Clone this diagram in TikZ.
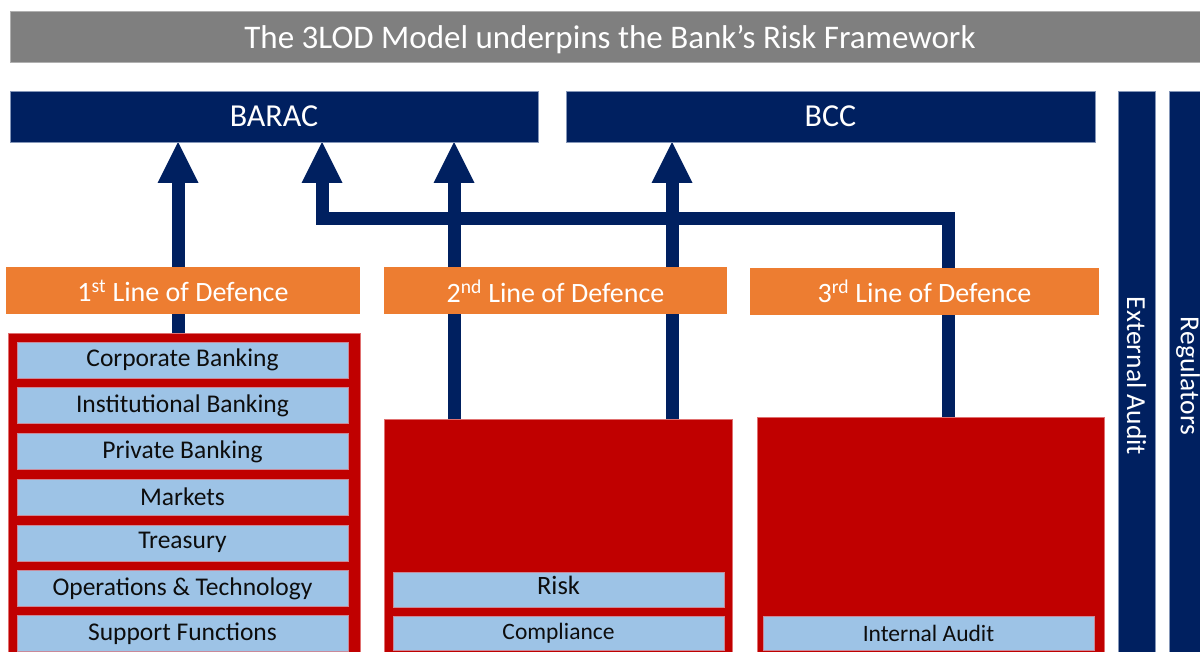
\documentclass[tikz,border=0pt]{standalone}
\usepackage{fontspec}
\setmainfont{Carlito}
\usetikzlibrary{arrows.meta}
\pgfdeclarelayer{back}
\pgfsetlayers{back,main}

\definecolor{navy}{HTML}{002060}
\definecolor{navyedge}{HTML}{8496B8}
\definecolor{titlegray}{HTML}{7F7F7F}
\definecolor{titleedge}{HTML}{B0B0B0}
\definecolor{lodorange}{HTML}{ED7D31}
\definecolor{unitred}{HTML}{C00000}
\definecolor{rededge}{HTML}{E07070}
\definecolor{funcblue}{HTML}{9DC3E6}
\definecolor{funcedge}{HTML}{C98A9A}
\definecolor{ink}{HTML}{0D0D0D}

\tikzset{
  box/.style={rectangle, inner sep=0pt, outer sep=0pt, anchor=center},
  banner/.style={box, fill=titlegray, draw=titleedge, line width=0.6pt, text=white,
    font=\fontsize{33}{40}\selectfont},
  board/.style={box, fill=navy, draw=navyedge, line width=0.6pt, text=white,
    minimum height=51pt, font=\fontsize{32}{38}\selectfont},
  sidebar/.style={box, fill=navy, draw=navyedge, line width=0.6pt, text=white,
    rotate=-90, minimum width=570pt, minimum height=37pt,
    font=\fontsize{27.5}{33}\selectfont},
  lod/.style={box, fill=lodorange, text=white, minimum height=47pt,
    font=\fontsize{28}{34}\selectfont},
  unit/.style={box, fill=unitred, draw=rededge, line width=0.6pt},
  func/.style={box, fill=funcblue, draw=funcedge, line width=0.5pt, text=ink,
    minimum width=331pt, minimum height=36pt, font=\fontsize{25.5}{30}\selectfont},
  report/.style={line width=13pt, draw=navy, line join=miter,
    -{Triangle[width=41pt, length=41pt, line width=0pt]}},
}

\begin{document}
\begin{tikzpicture}[x=1pt, y=-1pt]
  \useasboundingbox (0,0) rectangle (1200,652);
  \clip (0,0) rectangle (1200,652);

  % heading banner
  \node[banner, minimum width=1200pt, minimum height=51pt, text height=32pt, text depth=7pt]
    (title) at (610,36.5) {The 3LOD Model underpins the Bank’s Risk Framework};

  % board committees
  \node[board, minimum width=528pt] (barac) at (274,116.5) {BARAC};
  \node[board, minimum width=529pt] (bcc) at (830.5,116.5) {BCC};

  % external oversight bars
  \node[sidebar] (extaudit) at (1136.5,376) {External Audit};
  \node[sidebar] (regulators) at (1188,376) {Regulators};

  % the three lines of defence
  \node[lod, minimum width=354pt] (lod1) at (183,290.5) {1\textsuperscript{st} Line of Defence};
  \node[lod, minimum width=343pt] (lod2) at (555.5,291) {2\textsuperscript{nd} Line of Defence};
  \node[lod, minimum width=349pt] (lod3) at (924.5,291.5) {3\textsuperscript{rd} Line of Defence};

  % business units behind each line
  \node[unit, minimum width=352pt, minimum height=327pt] (red1) at (184,496.5) {};
  \node[unit, minimum width=348pt, minimum height=241pt] (red2) at (558,539.5) {};
  \node[unit, minimum width=347pt, minimum height=243pt] (red3) at (930.5,538.5) {};

  % first line functions
  \node[func] (corp) at (182.5,360) {Corporate Banking};
  \node[func] (inst) at (182.5,405.7) {Institutional Banking};
  \node[func] (priv) at (182.5,451.4) {Private Banking};
  \node[func] (mkts) at (182.5,497.1) {Markets};
  \node[func] (trsy) at (182.5,542.8) {Treasury};
  \node[func] (opst) at (182.5,588.5) {Operations \& Technology};
  \node[func] (supp) at (182.5,633.5) {Support Functions};

  % second line functions
  \node[func, minimum height=35pt, text depth=8pt, font=\fontsize{26.5}{31}\selectfont] (risk) at (558.5,589.5) {Risk};
  \node[func, minimum height=34pt, font=\fontsize{23.5}{28}\selectfont] (comp) at (558.5,633) {Compliance};

  % third line function
  \node[func, minimum height=34pt, font=\fontsize{23.5}{28}\selectfont] (iaud) at (928.5,633) {Internal Audit};

  % reporting lines, kept behind the boxes
  \coordinate (xa) at (178,0);
  \coordinate (xb) at (322,0);
  \coordinate (xc) at (454,0);
  \coordinate (xd) at (672,0);
  \coordinate (xe) at (948,0);
  \coordinate (hbar) at (0,219);
  \begin{pgfonlayer}{back}
    \draw[report] (xa |- red1.north) -- (xa |- barac.south);
    \draw[report] (xc |- red2.north) -- (xc |- barac.south);
    \draw[report] (xd |- red2.north) -- (xd |- bcc.south);
    \draw[report] (xe |- red3.north) -- (xe |- hbar) -- (xb |- hbar) -- (xb |- barac.south);
  \end{pgfonlayer}
\end{tikzpicture}
\end{document}
